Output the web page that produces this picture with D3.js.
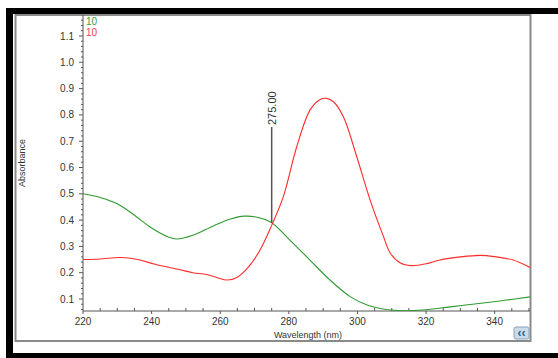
<!DOCTYPE html>
<html>
<head>
<meta charset="utf-8">
<script src="https://cdn.jsdelivr.net/npm/d3@7"></script>
<style>
  body { margin: 0; background: #fff; }
  svg { display: block; font-family: "Liberation Sans", Arial, sans-serif; }
</style>
</head>
<body>
<svg id="chart" width="558" height="358"></svg>
<script>
// spectra (wavelength nm, absorbance)
const greenWl = [220, 225, 230, 234, 240, 245, 247.3, 252, 258, 263, 267, 271, 275, 280, 286, 292, 298, 303, 307, 312, 319, 327, 336, 343, 350.3];
const greenAbs = [0.5, 0.486, 0.462, 0.428, 0.37, 0.335, 0.328, 0.342, 0.378, 0.404, 0.415, 0.41, 0.39, 0.328, 0.25, 0.172, 0.108, 0.076, 0.063, 0.056, 0.058, 0.07, 0.084, 0.095, 0.108];
const redWl = [220, 225, 231, 236, 241, 248, 252, 256, 259, 262, 265, 268, 271.6, 275, 278.4, 282.3, 286.2, 289, 291, 293, 295.9, 299.8, 303.7, 307.6, 309.5, 312.4, 315.8, 320, 324, 330, 335.7, 340, 345.4, 350.3];
const redAbs = [0.25, 0.252, 0.258, 0.25, 0.232, 0.212, 0.2, 0.193, 0.182, 0.172, 0.183, 0.218, 0.286, 0.38, 0.489, 0.679, 0.819, 0.858, 0.863, 0.85, 0.793, 0.641, 0.476, 0.337, 0.276, 0.238, 0.227, 0.234, 0.248, 0.26, 0.266, 0.261, 0.248, 0.22];
const xTicks = [220, 240, 260, 280, 300, 320, 340];
const yTicks = [0.1, 0.2, 0.3, 0.4, 0.5, 0.6, 0.7, 0.8, 0.9, 1.0, 1.1];
const legendNames = ["10", "10"];
const markerWl = 275;

const svg = d3.select("#chart");
const plot = { left: 83, right: 530, top: 15, bottom: 311 };

const x = d3.scaleLinear().domain([220, 350.3]).range([plot.left, plot.right]);
const y = d3.scaleLinear().domain([0.1, 1.1]).range([299, 36]);

// frame
svg.append("rect").attr("x", 6).attr("y", 8).attr("width", 552).attr("height", 6).attr("fill", "#000");
svg.append("rect").attr("x", 6).attr("y", 8).attr("width", 7).attr("height", 350).attr("fill", "#000");
svg.append("rect").attr("x", 6).attr("y", 353).attr("width", 552).attr("height", 5).attr("fill", "#000");
svg.append("rect").attr("x", 15.5).attr("y", 15).attr("width", 515).attr("height", 326)
  .attr("fill", "#fff").attr("stroke", "#8a8a8a").attr("stroke-width", 2);

// axes
const yMinor = d3.range(0.06, 1.18, 0.02).filter((v) => Math.abs(v * 10 - Math.round(v * 10)) > 0.01);
const xMinor = d3.range(220, 351, 5).filter((v) => v % 20 !== 0);

const axisY = svg.append("g").attr("transform", `translate(${plot.left},0)`);
axisY.append("line").attr("y1", plot.top).attr("y2", plot.bottom).attr("stroke", "#555");
axisY.selectAll(".minor").data(yMinor).join("line")
  .attr("x1", -2).attr("x2", 0).attr("y1", (d) => y(d)).attr("y2", (d) => y(d)).attr("stroke", "#555");
axisY.selectAll(".major").data(yTicks).join("line")
  .attr("x1", -4).attr("x2", 0).attr("y1", (d) => y(d)).attr("y2", (d) => y(d)).attr("stroke", "#555");
axisY.selectAll("text").data(yTicks).join("text")
  .attr("x", -9).attr("y", (d) => y(d)).attr("dy", "0.35em").attr("text-anchor", "end")
  .attr("font-size", 10).attr("fill", "#333").text((d) => d.toFixed(1));

const axisX = svg.append("g").attr("transform", `translate(0,${plot.bottom})`);
axisX.append("line").attr("x1", plot.left).attr("x2", plot.right).attr("stroke", "#555");
axisX.selectAll(".minor").data(xMinor).join("line")
  .attr("x1", (d) => x(d)).attr("x2", (d) => x(d)).attr("y1", -3).attr("y2", 0).attr("stroke", "#555");
axisX.selectAll(".major").data(xTicks).join("line")
  .attr("x1", (d) => x(d)).attr("x2", (d) => x(d)).attr("y1", 0).attr("y2", 3).attr("stroke", "#555");
axisX.selectAll("text").data(xTicks).join("text")
  .attr("x", (d) => x(d)).attr("y", 14).attr("text-anchor", "middle")
  .attr("font-size", 10).attr("fill", "#333").text((d) => d);

svg.append("text").attr("x", 308).attr("y", 338).attr("text-anchor", "middle")
  .attr("font-size", 9).attr("fill", "#333").text("Wavelength (nm)");
svg.append("text").attr("transform", "translate(25,163) rotate(-90)").attr("text-anchor", "middle")
  .attr("font-size", 9).attr("fill", "#333").text("Absorbance");

// curves
const line = d3.line().x((d) => x(d[0])).y((d) => y(d[1])).curve(d3.curveCatmullRom.alpha(0.5));
svg.append("clipPath").attr("id", "plotClip").append("rect")
  .attr("x", plot.left).attr("y", plot.top).attr("width", plot.right - plot.left).attr("height", plot.bottom - plot.top);

svg.append("path").datum(d3.zip(greenWl, greenAbs)).attr("d", line)
  .attr("fill", "none").attr("stroke", "#2f9a2f").attr("stroke-width", 1.1).attr("clip-path", "url(#plotClip)");
svg.append("path").datum(d3.zip(redWl, redAbs)).attr("d", line)
  .attr("fill", "none").attr("stroke", "#ff2a2a").attr("stroke-width", 1.1).attr("clip-path", "url(#plotClip)");

// marker at 275
const markerY = y(d3.scaleLinear().domain(greenWl).range(greenAbs)(markerWl));
svg.append("line").attr("x1", x(markerWl)).attr("x2", x(markerWl)).attr("y1", 127).attr("y2", markerY)
  .attr("stroke", "#555").attr("stroke-width", 1.5);
svg.append("text").attr("transform", `translate(${x(markerWl) + 4},125) rotate(-90)`)
  .attr("font-size", 11).attr("fill", "#333").text(markerWl.toFixed(2));

// legend
const legendColors = ["#3a9a3a", "#ff3b55"];
svg.selectAll(".legend").data(legendNames).join("text")
  .attr("x", 86).attr("y", (d, i) => 25 + i * 11)
  .attr("font-size", 10).attr("fill", (d, i) => legendColors[i]).text((d) => d);

// collapse button
const btn = svg.append("g").attr("transform", "translate(514,327)");
btn.append("rect").attr("width", 15).attr("height", 12).attr("rx", 2)
  .attr("fill", "#c9dbe8").attr("stroke", "#8aa3b8");
btn.append("text").attr("x", 7.5).attr("y", 10).attr("text-anchor", "middle")
  .attr("font-size", 12).attr("font-weight", "bold").attr("fill", "#2d5a80").text("‹‹");
</script>
</body>
</html>
